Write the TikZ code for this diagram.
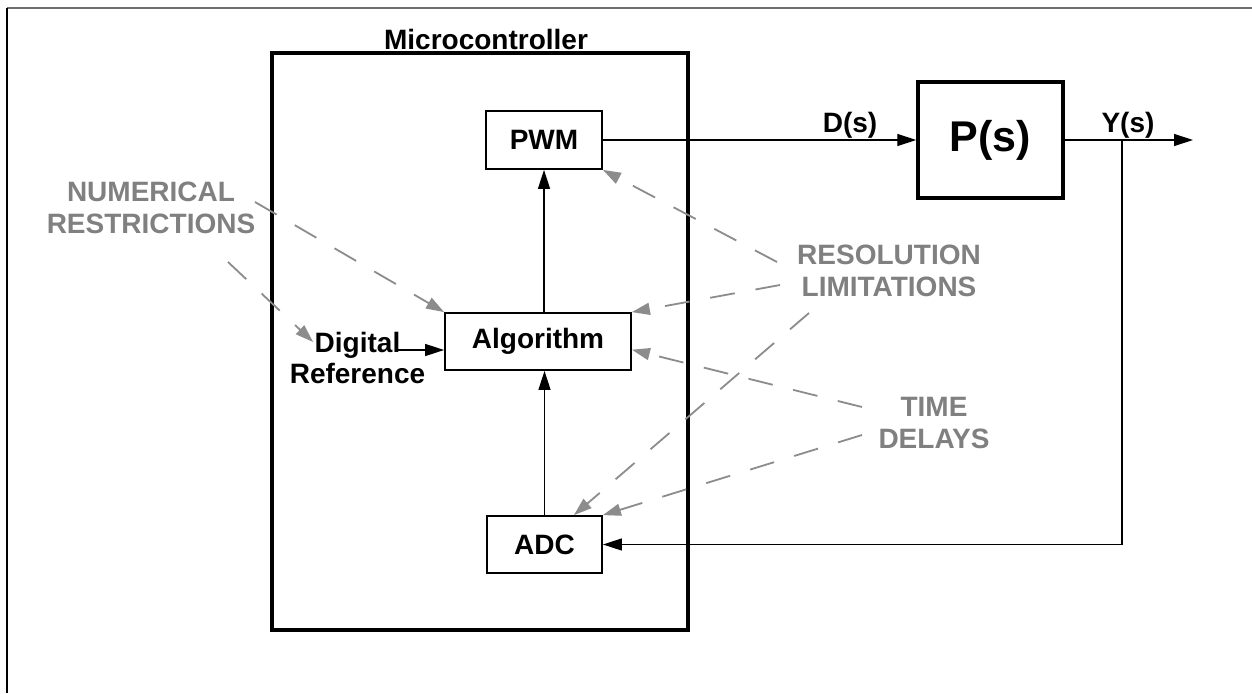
\documentclass[tikz,border=0pt]{standalone}
\usepackage{fontspec}
\setmainfont{Liberation Sans}
\usetikzlibrary{arrows.meta}
\definecolor{graytxt}{RGB}{128,128,128}
\definecolor{gline}{RGB}{140,140,140}
\definecolor{gborder}{RGB}{110,110,110}
\begin{document}
\begin{tikzpicture}[x=1pt,y=-1pt,
  lbl/.style={font=\fontsize{28}{31}\selectfont\bfseries, inner sep=0pt},
  glbl/.style={font=\fontsize{28}{32}\selectfont\bfseries, text=graytxt, inner sep=0pt, align=center},
  blockbox/.style={draw, line width=1.8pt, inner sep=0pt, font=\fontsize{28}{31}\selectfont\bfseries},
  thickbox/.style={draw, line width=3.5pt, inner sep=0pt},
  barrow/.style={-{Triangle[length=19pt,width=12pt]}, line width=1.3pt},
  garrow/.style={-{Triangle[length=18pt,width=12pt]}, draw=gline, line width=1.8pt, dash pattern=on 25pt off 21pt}
]
\useasboundingbox (0,0) rectangle (1252,693);
\fill[white] (0,0) rectangle (1252,693);
% frame fragments
\draw[line width=2pt, gborder] (7,8) -- (1252,8);
\draw[line width=2pt] (7,8) -- (7,693);

% microcontroller
\node[lbl, anchor=base] (title) at (486,49) {Microcontroller};
\node[thickbox, minimum width=416pt, minimum height=577pt] (mc) at (480,341.5) {};

\node[blockbox, minimum width=116pt, minimum height=58pt] (pwm) at (544,140) {PWM};
\node[blockbox, minimum width=186pt, minimum height=57pt] (alg) at (538,341.5) {Algorithm};
\node[blockbox, minimum width=115pt, minimum height=57pt] (adc) at (544.5,544.5) {ADC};
\node[lbl, align=center] (dr) at (357.5,358) {Digital\\Reference};

% plant
\node[thickbox, minimum width=145pt, minimum height=116pt, font=\fontsize{43}{50}\selectfont\bfseries] (P) at (990.5,140) {P(s)};
\node[lbl, anchor=base] (ds) at (850,132) {D(s)};
\node[lbl, anchor=base] (ys) at (1128,132) {Y(s)};

% gray labels
\node[glbl] (nr) at (151,208) {NUMERICAL\\RESTRICTIONS};
\node[glbl] (rl) at (889,271) {RESOLUTION\\LIMITATIONS};
\node[glbl] (td) at (934,423) {TIME\\DELAYS};

% free ends
\coordinate (n1) at (255,202);
\coordinate (n2) at (228,262);
\coordinate (r1) at (777,262);
\coordinate (r2) at (780,285);
\coordinate (r3) at (809,313);
\coordinate (t1) at (862,407);
\coordinate (t2) at (862,435);
\coordinate (drout) at (398,350);
\coordinate (yout) at (1193,140);
\coordinate (fb) at (1122,140);

% black connectors
\draw[barrow] (pwm.east) -- (P.west |- pwm.east);
\draw[barrow] (P.east) -- (yout);
\draw[barrow] (fb) |- (adc.east);
\draw[barrow] (adc.north) -- (adc.north |- alg.south);
\draw[barrow] (pwm.south |- alg.north) -- (pwm.south);
\draw[barrow] (drout) -- (alg.west |- drout);

% gray dashed connectors
\draw[garrow] (n1) -- (alg.north west);
\draw[garrow] (n2) -- ([shift={(23.5,-16)}]dr.west);
\draw[garrow] (r1) -- (pwm.south east);
\draw[garrow] (r2) -- (alg.north east);
\draw[garrow] (r3) -- (adc.45);
\draw[garrow] (t1) -- (alg.-5);
\draw[garrow] (t2) -- (adc.north east);
\end{tikzpicture}
\end{document}
